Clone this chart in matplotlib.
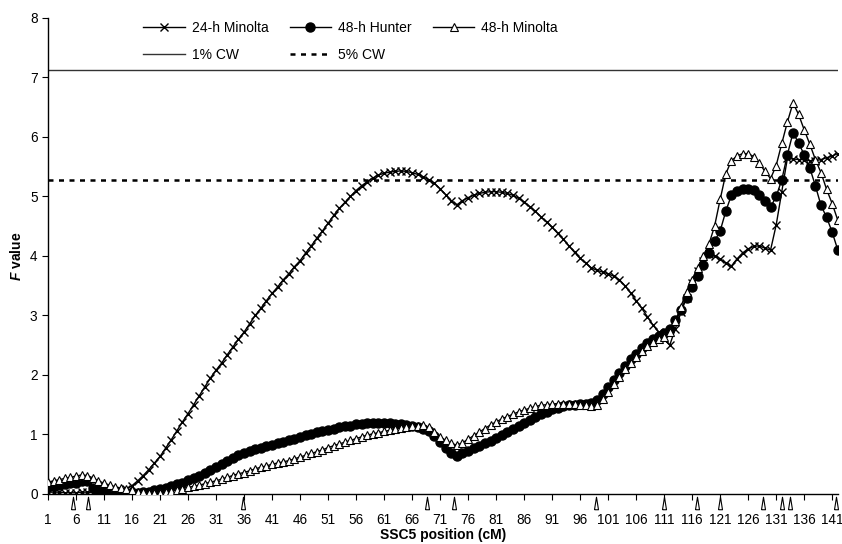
import numpy as np
import matplotlib
matplotlib.use("Agg")
import matplotlib.pyplot as plt
from matplotlib.lines import Line2D

plt.rcParams['font.family'] = ['Liberation Sans', 'DejaVu Sans']
plt.rcParams['mathtext.fontset'] = 'custom'
plt.rcParams['mathtext.it'] = 'Liberation Sans:italic:bold'
plt.rcParams['mathtext.rm'] = 'Liberation Sans:bold'

# ---- data -------------------------------------------------------------
positions = list(range(1, 143))

minolta_24h = [
    0.03, 0.03, 0.03, 0.02, 0.02, 0.02, 0.03, 0.03, 0.02, 0.02,   # 1-10
    0.02, 0.02, 0.03, 0.05, 0.08, 0.14, 0.22, 0.31, 0.41, 0.52,   # 11-20
    0.63, 0.77, 0.91, 1.06, 1.21, 1.35, 1.50, 1.65, 1.80, 1.95,   # 21-30
    2.08, 2.20, 2.34, 2.47, 2.60, 2.72, 2.86, 3.00, 3.12, 3.25,   # 31-40
    3.37, 3.48, 3.60, 3.70, 3.82, 3.92, 4.05, 4.17, 4.30, 4.42,   # 41-50
    4.55, 4.68, 4.80, 4.90, 5.00, 5.10, 5.18, 5.25, 5.31, 5.36,   # 51-60
    5.39, 5.41, 5.42, 5.43, 5.42, 5.40, 5.37, 5.33, 5.28, 5.22,   # 61-70
    5.13, 5.03, 4.93, 4.86, 4.93, 4.98, 5.02, 5.05, 5.07, 5.08,   # 71-80
    5.08, 5.07, 5.05, 5.02, 4.97, 4.91, 4.83, 4.75, 4.66, 4.57,   # 81-90
    4.48, 4.38, 4.28, 4.17, 4.06, 3.96, 3.88, 3.80, 3.76, 3.73,   # 91-100
    3.70, 3.66, 3.60, 3.50, 3.38, 3.25, 3.12, 2.98, 2.84, 2.72,   # 101-110
    2.60, 2.50, 2.78, 3.05, 3.30, 3.55, 3.75, 3.92, 4.03, 4.00,   # 111-120
    3.95, 3.88, 3.83, 3.95, 4.05, 4.12, 4.16, 4.17, 4.13, 4.10,   # 121-130
    4.52, 5.08, 5.64, 5.63, 5.62, 5.62, 5.60, 5.60, 5.62, 5.65,   # 131-140
    5.68, 5.72,                                                   # 141-142
]

hunter_48h = [
    0.12, 0.13, 0.15, 0.16, 0.18, 0.19, 0.21, 0.22, 0.10, 0.06,   # 1-10
    0.05, 0.04, 0.03, 0.03, 0.02, 0.02, 0.02, 0.03, 0.04, 0.06,   # 11-20
    0.08, 0.10, 0.13, 0.16, 0.19, 0.23, 0.27, 0.31, 0.35, 0.40,   # 21-30
    0.45, 0.50, 0.55, 0.60, 0.65, 0.69, 0.72, 0.75, 0.78, 0.80,   # 31-40
    0.83, 0.85, 0.88, 0.90, 0.93, 0.96, 0.99, 1.01, 1.04, 1.06,   # 41-50
    1.08, 1.10, 1.12, 1.14, 1.15, 1.17, 1.18, 1.19, 1.20, 1.20,   # 51-60
    1.20, 1.19, 1.18, 1.17, 1.16, 1.14, 1.12, 1.10, 1.05, 0.97,   # 61-70
    0.87, 0.77, 0.68, 0.64, 0.68, 0.73, 0.77, 0.81, 0.85, 0.89,   # 71-80
    0.94, 0.99, 1.04, 1.09, 1.14, 1.19, 1.24, 1.29, 1.34, 1.38,   # 81-90
    1.42, 1.45, 1.47, 1.49, 1.50, 1.51, 1.52, 1.53, 1.58, 1.68,   # 91-100
    1.80, 1.92, 2.03, 2.15, 2.26, 2.36, 2.45, 2.53, 2.60, 2.66,   # 101-110
    2.71, 2.78, 2.92, 3.10, 3.30, 3.48, 3.66, 3.85, 4.05, 4.25,   # 111-120
    4.42, 4.75, 5.02, 5.09, 5.12, 5.13, 5.11, 5.02, 4.92, 4.82,   # 121-130
    5.00, 5.28, 5.70, 6.07, 5.90, 5.70, 5.48, 5.18, 4.85, 4.65,   # 131-140
    4.40, 4.10,                                                   # 141-142
]

minolta_48h = [
    0.20, 0.22, 0.24, 0.26, 0.28, 0.30, 0.32, 0.31, 0.27, 0.22,   # 1-10
    0.18, 0.15, 0.12, 0.10, 0.08, 0.06, 0.04, 0.03, 0.02, 0.02,   # 11-20
    0.02, 0.03, 0.05, 0.07, 0.09, 0.11, 0.13, 0.15, 0.17, 0.20,   # 21-30
    0.22, 0.25, 0.28, 0.31, 0.34, 0.36, 0.39, 0.42, 0.45, 0.47,   # 31-40
    0.50, 0.52, 0.54, 0.56, 0.59, 0.62, 0.65, 0.68, 0.71, 0.74,   # 41-50
    0.78, 0.81, 0.84, 0.87, 0.90, 0.93, 0.96, 0.99, 1.01, 1.03,   # 51-60
    1.05, 1.07, 1.09, 1.11, 1.12, 1.14, 1.15, 1.16, 1.12, 1.04,   # 61-70
    0.96, 0.90, 0.85, 0.82, 0.86, 0.92, 0.98, 1.04, 1.10, 1.16,   # 71-80
    1.21, 1.26, 1.30, 1.34, 1.38, 1.41, 1.44, 1.47, 1.49, 1.50,   # 81-90
    1.51, 1.52, 1.52, 1.52, 1.51, 1.50, 1.49, 1.48, 1.50, 1.60,   # 91-100
    1.72, 1.85, 1.97, 2.10, 2.20, 2.30, 2.40, 2.48, 2.55, 2.60,   # 101-110
    2.64, 2.72, 2.90, 3.15, 3.40, 3.60, 3.80, 4.00, 4.20, 4.50,   # 111-120
    4.95, 5.38, 5.60, 5.68, 5.72, 5.72, 5.67, 5.56, 5.42, 5.30,   # 121-130
    5.52, 5.89, 6.25, 6.57, 6.38, 6.12, 5.88, 5.62, 5.40, 5.12,   # 131-140
    4.88, 4.60,                                                   # 141-142
]

cw_1pct = 7.13
cw_5pct = 5.27

marker_positions = [5.4, 8.2, 35.9, 68.7, 73.4, 98.8, 111.0, 116.8,
                    121.0, 128.7, 132.0, 133.4, 141.7]

xtick_values = list(range(1, 142, 5))
ytick_values = list(range(0, 9))

# ---- figure -----------------------------------------------------------
fig = plt.figure(figsize=(8.42, 5.44), dpi=100)
ax = fig.add_axes([0.057, 0.092, 0.938, 0.875])

ax.axhline(cw_1pct, color='#333333', lw=1.0, zorder=1)
ax.axhline(cw_5pct, color='black', lw=1.8, linestyle=(0, (2, 2.2)), zorder=1)

ax.plot(positions, minolta_24h, color='black', lw=1.0, marker='x',
        markersize=6, markeredgewidth=1.0, zorder=3)
ax.plot(positions, hunter_48h, color='black', lw=1.0, marker='o',
        markersize=6.5, markerfacecolor='black', zorder=4)
ax.plot(positions, minolta_48h, color='black', lw=1.0, marker='^',
        markersize=6, markerfacecolor='white', markeredgewidth=0.8, zorder=5)

tri = [(-0.32, -1), (0.32, -1), (0, 1), (-0.32, -1)]
ax.plot(marker_positions, [-0.16] * len(marker_positions), linestyle='none',
        marker=tri, markersize=9, markerfacecolor='white',
        markeredgecolor='black', markeredgewidth=0.8, clip_on=False, zorder=6)

ax.set_xlim(1, 142)
ax.set_ylim(0, 8)
ax.set_xticks(xtick_values)
ax.set_yticks(ytick_values)
ax.tick_params(axis='both', direction='out', length=4, width=0.8,
               labelsize=9.8, color='black')
ax.tick_params(axis='x', pad=9.5)
for s in ['top', 'right']:
    ax.spines[s].set_visible(False)
for s in ['left', 'bottom']:
    ax.spines[s].set_linewidth(1.0)

ax.set_xlabel('SSC5 position (cM)', fontsize=10, fontweight='bold', labelpad=1)
ax.set_ylabel(r'$\mathit{F}$ value', fontsize=10, fontweight='bold', labelpad=4)

h24 = Line2D([], [], color='black', lw=1.0, marker='x', markersize=6)
h48h = Line2D([], [], color='black', lw=1.0, marker='o', markersize=6.5)
h48m = Line2D([], [], color='black', lw=1.0, marker='^', markersize=6,
              markerfacecolor='white', markeredgewidth=0.8)
h1 = Line2D([], [], color='#333333', lw=1.0)
h5 = Line2D([], [], color='black', lw=1.8, linestyle=(0, (2, 2.2)))
handles = [h24, h1, h48h, h5, h48m]
labels = ['24-h Minolta', '1% CW', '48-h Hunter', '5% CW', '48-h Minolta']
ax.legend(handles, labels, ncol=3, frameon=False, fontsize=10,
          loc='upper left', bbox_to_anchor=(0.105, 1.02), handlelength=3.0,
          handletextpad=0.5, columnspacing=1.5, labelspacing=0.95)

fig.savefig('out.png', dpi=100)
